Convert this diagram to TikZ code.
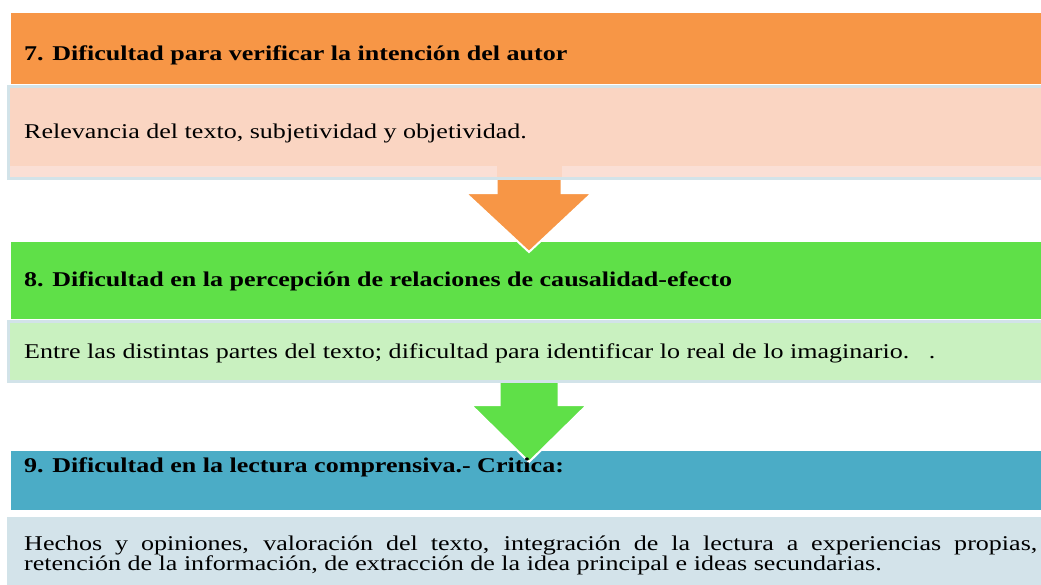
\documentclass[tikz,border=0pt]{standalone}
\usepackage{fontspec}
\setmainfont{Liberation Serif}
\usetikzlibrary{calc}

\definecolor{naranja}{HTML}{F79646}
\definecolor{salmon}{HTML}{FAD5C2}
\definecolor{salmonclaro}{HTML}{FADFD5}
\definecolor{verde}{HTML}{5FE048}
\definecolor{verdeclaro}{HTML}{C9F1C0}
\definecolor{azul}{HTML}{4BACC6}
\definecolor{azulclaro}{HTML}{D3E3EA}
\definecolor{borde}{HTML}{D2E3E9}

\newcommand{\estirar}[1]{\scalebox{1.24}[1]{#1}}

\tikzset{
  titulo/.style={anchor=north west,inner sep=0pt,outer sep=0pt,minimum width=1036pt},
  cuerpo/.style={anchor=north west,inner sep=0pt,outer sep=0pt,draw=borde,line width=3pt,minimum width=1041pt},
  negrita/.style={anchor=base west,inner sep=0pt,font=\bfseries\fontsize{21}{16.5}\selectfont},
  normal/.style={anchor=base west,inner sep=0pt,font=\fontsize{21}{16.5}\selectfont},
  flecha/.style={draw=white,line width=2pt,line join=miter}
}

\begin{document}
\begin{tikzpicture}[x=1pt,y=-1pt]
\useasboundingbox (0,0) rectangle (1041,584);

% encabezados
\node[titulo,fill=naranja,minimum height=71pt] (tit7) at (11,13) {};
\node[titulo,fill=verde,minimum height=77pt] (tit8) at (11,242) {};
\node[titulo,fill=azul,minimum height=59pt] (tit9) at (11,451) {};

% flechas
\filldraw[flecha,fill=naranja] ($(tit7.south)+(-32.5,93)$) -- ++(0,16) -- ++(-31,0)
   -- ($(tit8.north)+(0,10)$) -- ($(tit7.south)+(63,109)$) -- ++(-30.5,0) -- ++(0,-16);
\filldraw[flecha,fill=verde] ($(tit8.south)+(-29.5,62)$) -- ++(0,24) -- ++(-28.5,0)
   -- ($(tit9.north)+(0,11)$) -- ($(tit8.south)+(58,86)$) -- ++(-28.5,0) -- ++(0,-24);

% cuerpos
\node[cuerpo,fill=salmon,minimum height=92pt] (cuerpo7) at (8.5,86.5) {};
\fill[salmonclaro] (10,166) rectangle (497,177);
\fill[salmonclaro] (562,166) rectangle (1041,177);
\node[cuerpo,fill=verdeclaro,minimum height=60pt] (cuerpo8) at (8.5,321.5) {};
\node[cuerpo,fill=azulclaro,minimum height=90pt] (cuerpo9) at (8.5,518.5) {};

% textos
\node[negrita] (txt7) at (24,60) {\estirar{7. Dificultad para verificar la intención del autor}};
\node[normal] (txt7b) at (24,138) {\estirar{Relevancia del texto, subjetividad y objetividad.}};
\node[negrita] (txt8) at (24,286) {\estirar{8. Dificultad en la percepción de relaciones de causalidad-efecto}};
\node[normal] (txt8b) at (24,358) {\estirar{Entre las distintas partes del texto; dificultad para identificar lo real de lo imaginario.\ \ \ .}};
\node[negrita] (txt9) at (24,472) {\estirar{9. Dificultad en la lectura comprensiva.- Critica:}};
\node[normal] (txt9b) at (24,550.5)
  {\estirar{\parbox[t]{817pt}{Hechos y opiniones, valoración del texto, integración de la lectura a experiencias propias,\linebreak
   retención de la información, de extracción de la idea principal e ideas secundarias.}}};
\end{tikzpicture}
\end{document}
